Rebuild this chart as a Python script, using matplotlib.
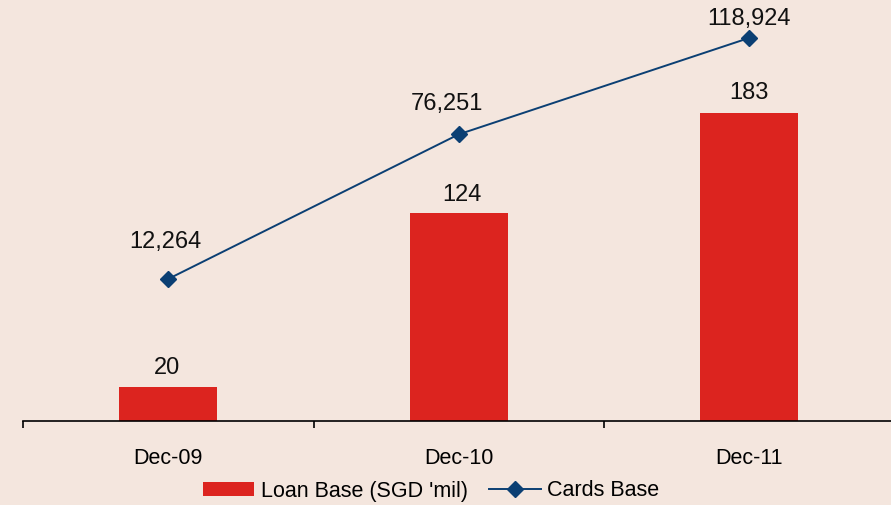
import matplotlib.pyplot as plt
import numpy as np

periods = ['Dec-09', 'Dec-10', 'Dec-11']
loan_base = [20, 124, 183]            # SGD 'mil
cards_base = [12264, 76251, 118924]

bg = '#F4E6DE'
bar_red = '#DC241F'
line_blue = '#0B3F73'

plt.rcParams['font.family'] = ['Liberation Sans', 'DejaVu Sans']

fig = plt.figure(figsize=(8.91, 5.05), dpi=100, facecolor=bg)
ax = fig.add_axes([23 / 891, 1 - 421 / 505, 871.5 / 891, 421 / 505])
ax.set_facecolor(bg)

x = np.arange(len(periods))
bars = ax.bar(x, loan_base, width=0.337, color=bar_red, zorder=2,
              label="Loan Base (SGD 'mil)")
ax.set_ylim(0, 250.5)
ax.set_xlim(-0.5, 2.5)

bar_nudge = [(-1, 6), (2, 5), (0, 7)]
for xi, v, (dx, dy) in zip(x, loan_base, bar_nudge):
    ax.annotate(f'{v}', (xi, v), xytext=(dx, dy), textcoords='offset points',
                ha='center', va='bottom', fontsize=17, color='#111111')

# cards on a second scale
ax2 = ax.twinx()
ax2.plot(x, cards_base, color=line_blue, lw=1.4, marker='D', ms=8.5,
         label='Cards Base', zorder=3)
ax2.set_ylim(-50600, 135700)

line_nudge = [(-2, 19), (-8.5, 14), (0, 6)]
for xi, v, (dx, dy) in zip(x, cards_base, line_nudge):
    ax2.annotate(f'{v:,}', (xi, v), xytext=(dx, dy), textcoords='offset points',
                 ha='center', va='bottom', fontsize=17, color='#111111')

for a in (ax, ax2):
    for s in ('top', 'right', 'left'):
        a.spines[s].set_visible(False)
ax2.spines['bottom'].set_visible(False)
ax.spines['bottom'].set_color('black')
ax.spines['bottom'].set_linewidth(1.2)
ax.set_yticks([])
ax2.set_yticks([])

# ticks at category boundaries, labels at centres
ax.set_xticks([-0.5, 0.5, 1.5, 2.5])
ax.set_xticklabels([])
ax.tick_params(axis='x', which='major', direction='out', length=5, width=1.2)
ax.set_xticks(x, minor=True)
ax.set_xticklabels(periods, minor=True, fontsize=15.5)
ax.tick_params(axis='x', which='minor', length=0, pad=19.5)

h1, l1 = ax.get_legend_handles_labels()
h2, l2 = ax2.get_legend_handles_labels()
fig.legend(h1 + h2, l1 + l2, loc='center', bbox_to_anchor=(431 / 891, 1 - 491 / 505),
           ncol=2, frameon=False, fontsize=15.5, handlelength=2.4, handleheight=0.6,
           columnspacing=1.0, handletextpad=0.3, borderaxespad=0)

fig.savefig('out.png', dpi=100, facecolor=bg)
